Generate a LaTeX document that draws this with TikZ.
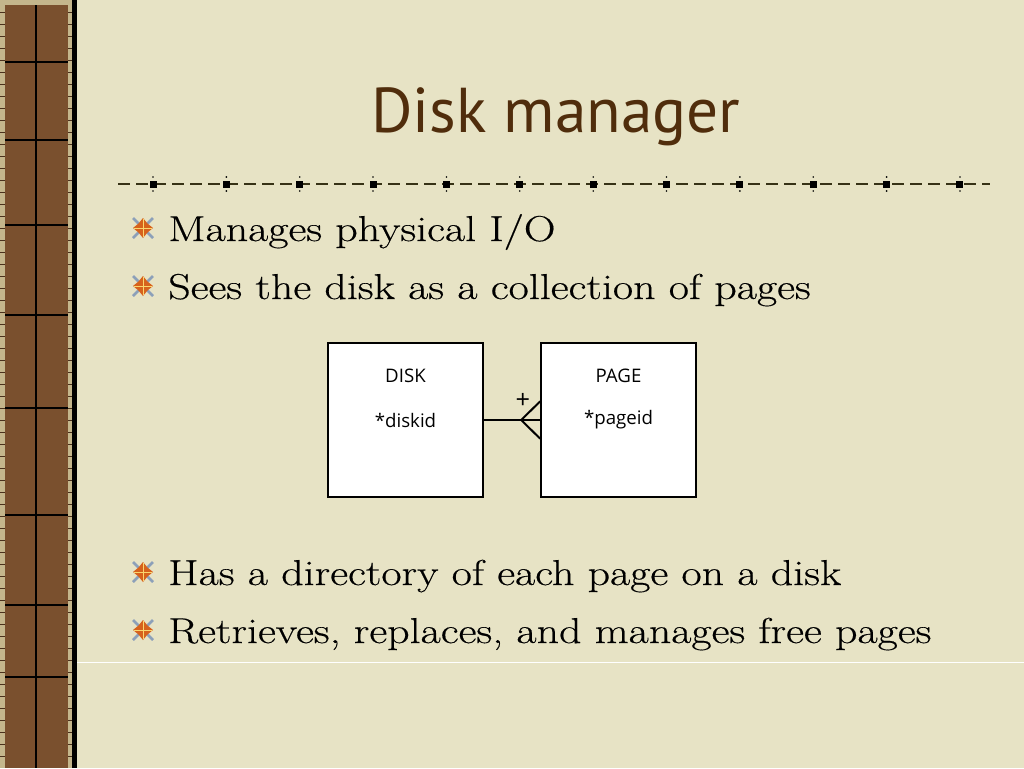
\documentclass[tikz,border=0pt]{standalone}
\usepackage{fontspec}
\setmainfont{Latin Modern Roman}[FakeStretch=1.22,FakeBold=0.4]
\newfontfamily\titlefont{PT Sans}
\newfontfamily\boxfont{Open Sans}
\usetikzlibrary{positioning}

\definecolor{parchment}{RGB}{231,227,197}
\definecolor{barbrown}{RGB}{122,80,46}
\definecolor{barlight}{RGB}{196,182,140}
\definecolor{titlebrown}{RGB}{80,45,12}
\definecolor{ruleolive}{RGB}{55,50,22}
\definecolor{starorange}{RGB}{214,98,28}
\definecolor{staryellow}{RGB}{250,214,110}
\definecolor{bluegray}{RGB}{140,160,185}

\tikzset{
  titletext/.style={anchor=base, inner sep=0pt, text=titlebrown, font=\titlefont\fontsize{47.5}{54}\selectfont},
  bullettext/.style={anchor=base west, inner sep=0pt, font=\fontsize{27}{32}\selectfont},
  entity/.style={draw, line width=1.5pt, fill=white, minimum width=116pt, minimum height=116pt, inner sep=0pt},
  entitytext/.style={inner sep=0pt, font=\boxfont\fontsize{14}{16}\selectfont},
  erline/.style={line width=1.5pt},
  rulerdash/.style={ruleolive, line width=1.5pt, dash pattern={on 9pt off 4.5pt}},
  bulletstar/.pic={
    \draw[bluegray, line width=2pt] (-10,-10) -- (10,10) (-10,10) -- (10,-10);
    \fill[starorange] (0,-10) -- (4.5,-4.5) -- (10,0) -- (4.5,4.5) -- (0,10) -- (-4.5,4.5) -- (-10,0) -- (-4.5,-4.5) -- cycle;
    \draw[staryellow, line width=0.75pt] (0,-9) -- (0,9) (-9,0) -- (9,0);
  }
}

\begin{document}
\begin{tikzpicture}[x=0.75pt,y=0.75pt,yscale=-1,xscale=1]
\useasboundingbox (0,0) rectangle (1024,768);

%Shape: Rectangle [background]
\fill[parchment] (0,0) rectangle (1024,768);
%Shape: Rectangle [left bar]
\fill[barbrown] (0,0) rectangle (73,768);
\fill[barlight] (0,0) rectangle (5,768);
\fill[barlight] (68,0) rectangle (72,768);
\fill[barlight] (0,0) rectangle (72,5);
\fill[black] (72,0) rectangle (77,768);
\foreach \y in {12,24,...,756} {
  \draw[barbrown!60!black, line width=0.75pt] (0,\y) -- (5,\y) (68,\y) -- (72,\y);
}
%Straight Lines [bar grid]
\draw[line width=1.2pt] (36,5) -- (36,768);
\foreach \y in {62,140,225,315,408,515,605,677} {
  \draw[line width=1.2pt] (5,\y) -- (68,\y);
}

% Text Node
\node (title) [titletext] at (556,132) {Disk manager};

%Straight Lines [ruler]
\draw[rulerdash] (118,184) -- (990,184);
\foreach \i in {0,...,11} {
  \fill[black] (153+73.36*\i-3.5,180.5) rectangle ++(7,7);
  \fill[black] (153+73.36*\i,177) circle (0.9);
  \fill[black] (153+73.36*\i,191) circle (0.9);
}

% Text Node
\node (io) [bullettext] at (168,241) {Manages physical I/O};
% Text Node
\node (pages) [bullettext] at (168,299) {Sees the disk as a collection of pages};
% Text Node
\node (directory) [bullettext] at (168,585) {Has a directory of each page on a disk};
% Text Node
\node (freepages) [bullettext] at (168,643) {Retrieves, replaces, and manages free pages};
\foreach \n in {io,pages,directory,freepages} {
  \pic at ([xshift=-18.75pt,yshift=-9.75pt]\n.base west) {bulletstar};
}

%Straight Lines [footer]
\draw[white, line width=0.75pt] (77,662) -- (1024,662);

%Shape: Rectangle [entities]
\node (disk) [entity] at (405.5,420) {};
\node (page) [entity] at (618.5,420) {};
\node (diskid) [entitytext] at (disk.center) {*diskid};
\node (diskname) [entitytext] at ([yshift=-33pt]disk.center) {DISK};
\node (pageid) [entitytext] at (page.center) {*pageid};
\node (pagename) [entitytext] at ([yshift=-33pt]page.center) {PAGE};

%Straight Lines [relationship]
\draw[erline] (disk.east) -- (page.west);
\coordinate (fork) at ([xshift=-14.25pt]page.west);
\draw[erline] ([yshift=14pt]page.west) -- (fork) -- ([yshift=-14pt]page.west);
\node (one) [entitytext, font=\boxfont\fontsize{19}{21}\selectfont] at ([xshift=-13pt,yshift=-14.25pt]page.west) {+};

\end{tikzpicture}
\end{document}
